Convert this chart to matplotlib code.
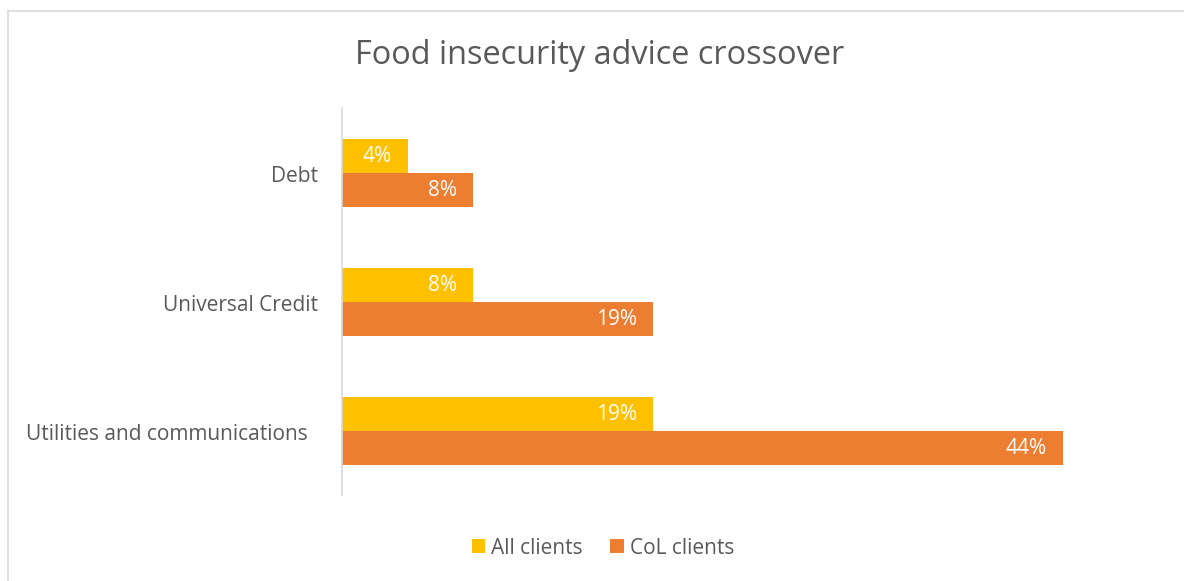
import matplotlib
matplotlib.use("Agg")
import matplotlib.pyplot as plt
import matplotlib.transforms as mtransforms
from matplotlib.lines import Line2D
import numpy as np

plt.rcParams['font.family'] = ['Open Sans', 'DejaVu Sans']

categories = ['Debt', 'Universal Credit', 'Utilities and communications']
all_clients = [4, 8, 19]
col_clients = [8, 19, 44]
series_names = ['All clients', 'CoL clients']

YELLOW = '#FFC000'
ORANGE = '#ED7D31'
GREY_TEXT = '#595959'
GREY_LINE = '#D9D9D9'

W, H = 1184, 581
fig = plt.figure(figsize=(W / 100, H / 100), dpi=100)

xmax = 48
px_per_unit = 721 / 44
ax = fig.add_axes([342 / W, 1 - 495 / H, xmax * px_per_unit / W, 387 / H])

y = np.arange(len(categories))
h = 34 / 129
b1 = ax.barh(y - h / 2, all_clients, height=h, color=YELLOW, label=series_names[0])
b2 = ax.barh(y + h / 2, col_clients, height=h, color=ORANGE, label=series_names[1])

for bars, vals in ((b1, all_clients), (b2, col_clients)):
    for bar, v in zip(bars, vals):
        ax.annotate(f'{v}%', (v, bar.get_y() + bar.get_height() / 2),
                    xytext=(-11.5, -1), textcoords='offset points',
                    ha='right', va='center', color='white', fontsize=15)

ax.set_xlim(0, xmax)
ax.set_ylim(len(categories) - 0.5, -0.5)
ax.set_yticks(y)
ax.set_yticklabels(categories, fontsize=15, color=GREY_TEXT)
ax.tick_params(axis='y', length=0, pad=17)
ax.set_xticks([])
for side in ('top', 'right', 'bottom'):
    ax.spines[side].set_visible(False)
ax.spines['left'].set_color(GREY_LINE)
ax.spines['left'].set_linewidth(1.2)

# nudge the long category label left, like the original layout
for lbl in ax.get_yticklabels():
    dx = -11 if lbl.get_text().startswith('Utilities') else 0
    lbl.set_transform(lbl.get_transform() +
                      mtransforms.ScaledTranslation(dx / 100, -1.5 / 100, fig.dpi_scale_trans))

fig.text(600 / W, 1 - 55 / H, 'Food insecurity advice crossover',
         ha='center', va='center', fontsize=23.4, color=GREY_TEXT)

fig.legend(handles=[b1, b2], labels=series_names, loc='center',
           bbox_to_anchor=(603 / W, 1 - 548 / H), ncol=2, frameon=False,
           fontsize=15, labelcolor=GREY_TEXT, handlelength=0.65,
           handleheight=0.65, handletextpad=0.3, columnspacing=1.3)

# chart frame
fig.add_artist(Line2D([7.5 / W, 7.5 / W], [0, 1 - 10.5 / H],
                      transform=fig.transFigure, color=GREY_LINE, lw=1.2))
fig.add_artist(Line2D([7.5 / W, 1], [1 - 10.5 / H, 1 - 10.5 / H],
                      transform=fig.transFigure, color=GREY_LINE, lw=1.2))

fig.savefig('out.png', dpi=100)
